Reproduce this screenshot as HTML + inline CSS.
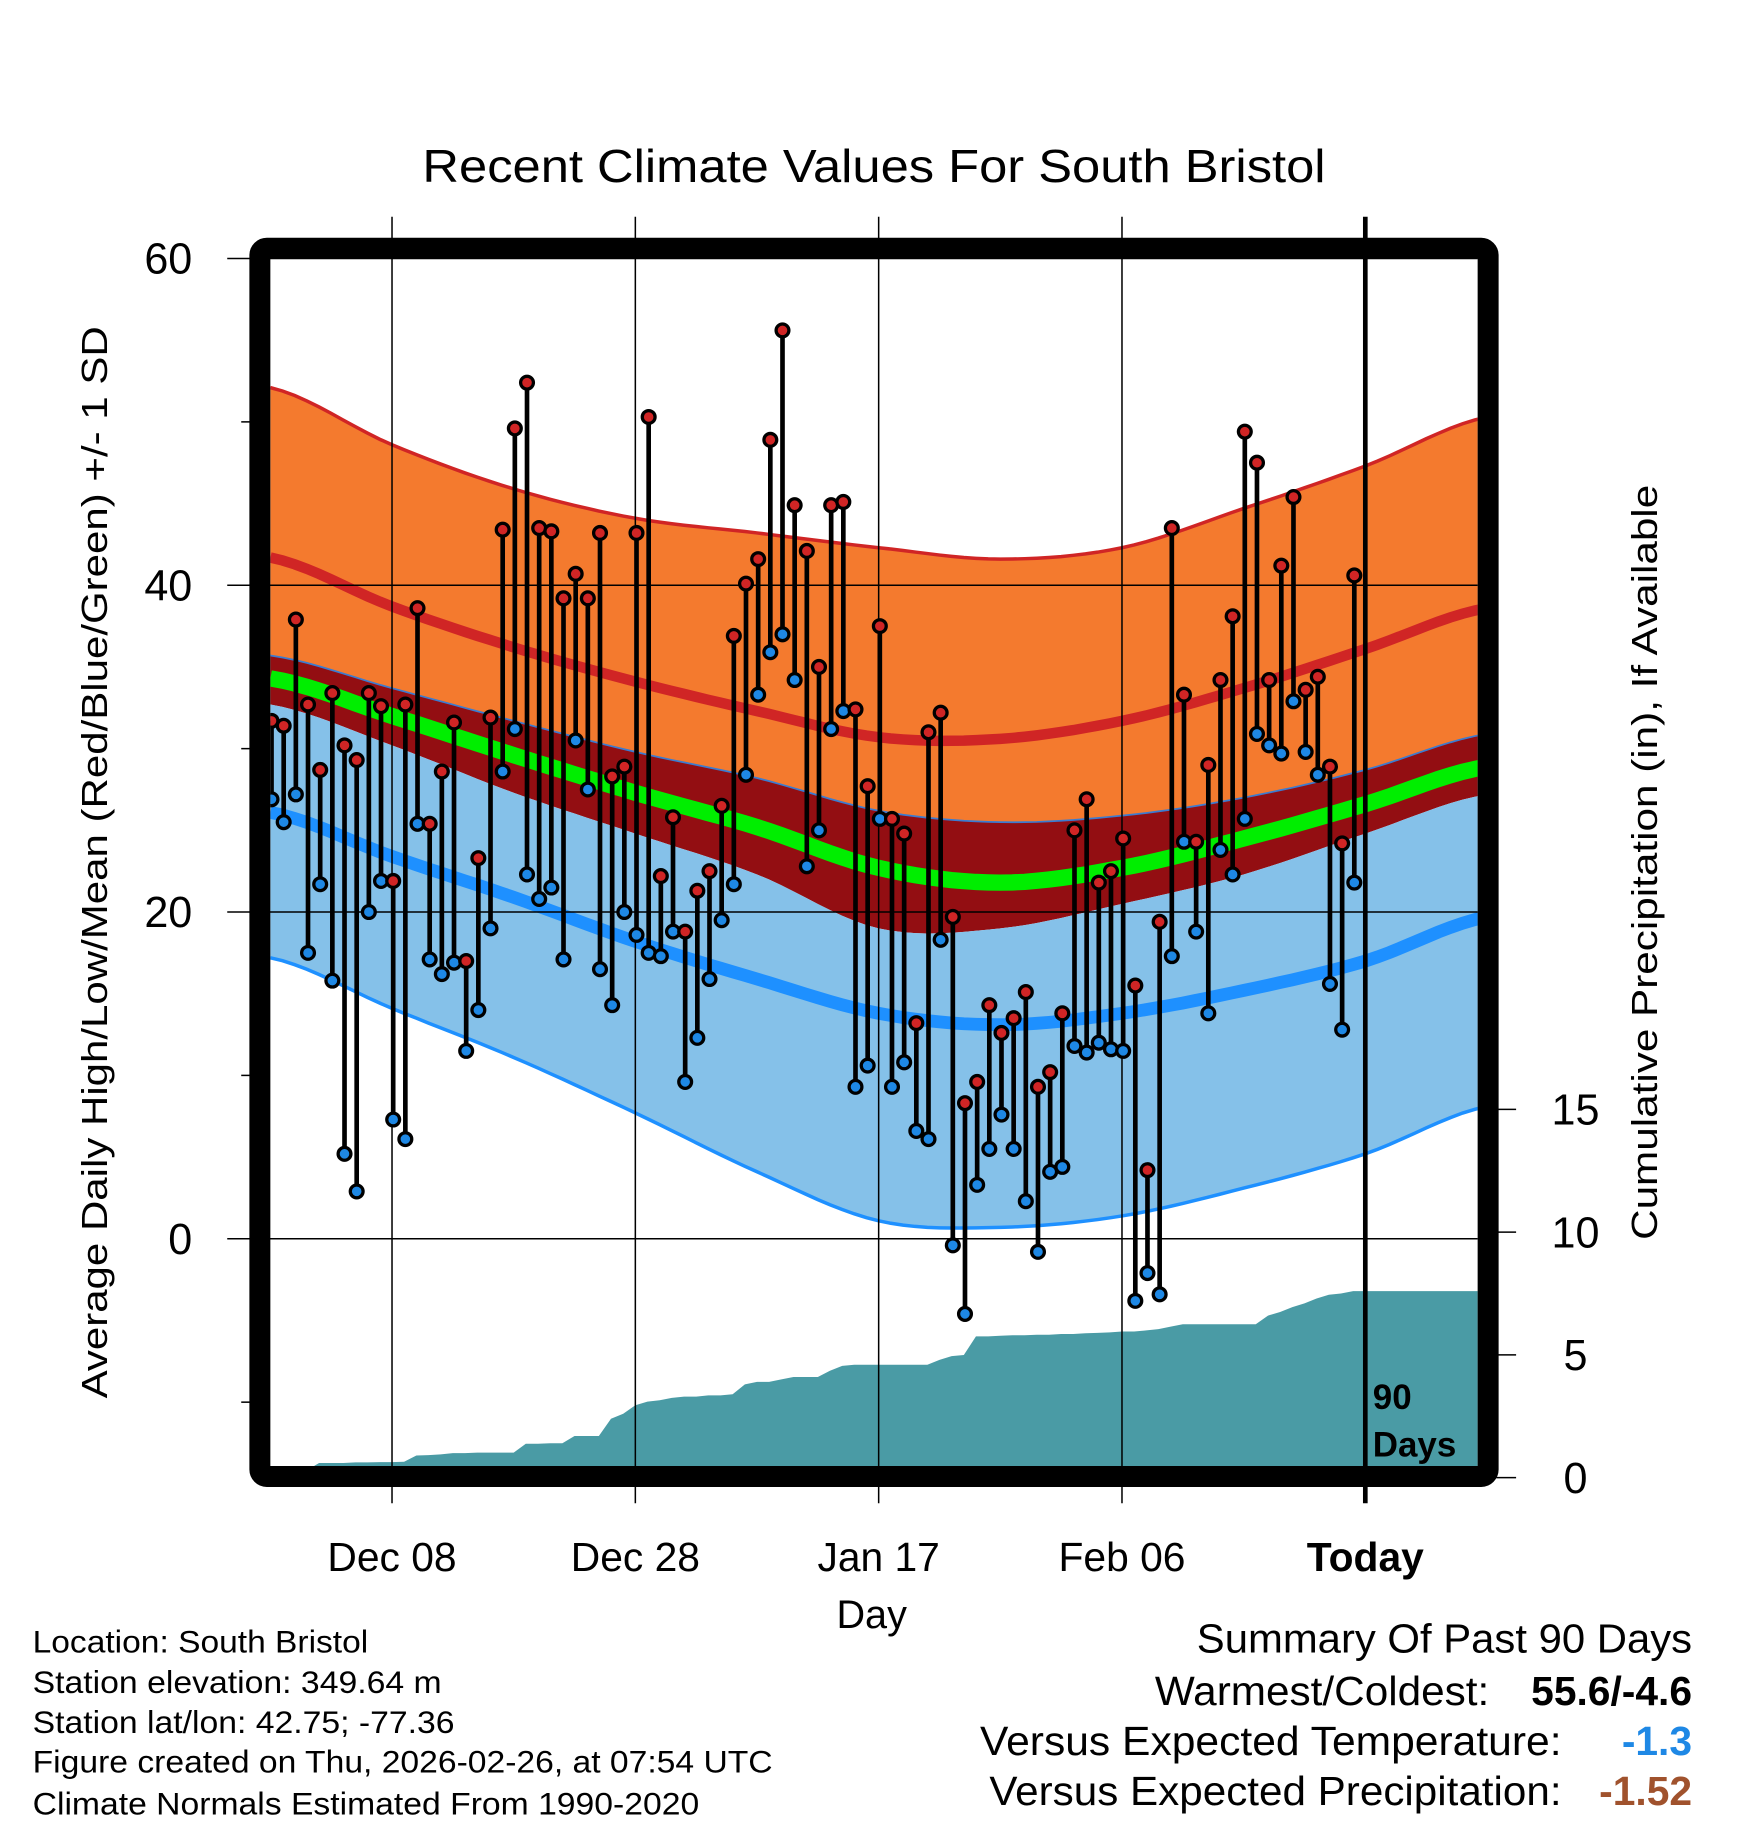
<!DOCTYPE html>
<html><head><meta charset="utf-8"><style>
html,body{margin:0;padding:0;background:#fff;}
svg{display:block;font-family:"Liberation Sans",sans-serif;}
</style></head><body>
<svg id="chart" width="1748" height="1828" viewBox="0 0 1500 1568.6" xmlns="http://www.w3.org/2000/svg">
<defs><clipPath id="plotclip"><rect x="232" y="222" width="1036" height="1036"/></clipPath></defs>
<text x="750" y="156" font-size="40" text-anchor="middle" textLength="775" lengthAdjust="spacingAndGlyphs">Recent Climate Values For South Bristol</text>
<g id="bands" clip-path="url(#plotclip)"></g>
<g id="precip" clip-path="url(#plotclip)"></g>
<g id="grid"></g>
<g id="marks" clip-path="url(#plotclip)"></g>
<rect x="223" y="213" width="1054" height="1054" rx="6" fill="none" stroke="#000" stroke-width="18"/>
<g id="axes"></g>
<text x="1178" y="1209" font-size="30" font-weight="bold">90</text>
<text x="1178" y="1250" font-size="30" font-weight="bold">Days</text>
<text x="748" y="1397" font-size="34" text-anchor="middle">Day</text>
<text transform="translate(92,740) rotate(-90)" font-size="31" text-anchor="middle" textLength="920" lengthAdjust="spacingAndGlyphs">Average Daily High/Low/Mean (Red/Blue/Green) +/- 1 SD</text>
<text transform="translate(1422,740) rotate(-90)" font-size="31" text-anchor="middle" textLength="648" lengthAdjust="spacingAndGlyphs">Cumulative Precipitation (in), If Available</text>
<g font-size="27">
<text x="28" y="1418" textLength="288" lengthAdjust="spacingAndGlyphs">Location: South Bristol</text>
<text x="28" y="1453" textLength="351" lengthAdjust="spacingAndGlyphs">Station elevation: 349.64 m</text>
<text x="28" y="1487" textLength="362" lengthAdjust="spacingAndGlyphs">Station lat/lon: 42.75; -77.36</text>
<text x="28" y="1521" textLength="635" lengthAdjust="spacingAndGlyphs">Figure created on Thu, 2026-02-26, at 07:54 UTC</text>
<text x="28" y="1557" textLength="572" lengthAdjust="spacingAndGlyphs">Climate Normals Estimated From 1990-2020</text>
</g>
<g font-size="35">
<text x="1452" y="1418" text-anchor="end" textLength="425" lengthAdjust="spacingAndGlyphs">Summary Of Past 90 Days</text>
<text x="1278" y="1463" text-anchor="end" textLength="287" lengthAdjust="spacingAndGlyphs">Warmest/Coldest:</text>
<text x="1452" y="1463" text-anchor="end" font-weight="bold">55.6/-4.6</text>
<text x="1340" y="1506" text-anchor="end" textLength="499" lengthAdjust="spacingAndGlyphs">Versus Expected Temperature:</text>
<text x="1452" y="1506" text-anchor="end" font-weight="bold" fill="#1e88e5">-1.3</text>
<text x="1340" y="1549" text-anchor="end" textLength="491" lengthAdjust="spacingAndGlyphs">Versus Expected Precipitation:</text>
<text x="1452" y="1549" text-anchor="end" font-weight="bold" fill="#a0522d">-1.52</text>
</g>
</svg>
<script>
const highs=[31.7,31.4,37.9,32.7,28.7,33.4,30.2,29.3,33.4,32.6,21.9,32.7,38.6,25.4,28.6,31.6,17,23.3,31.9,43.4,49.6,52.4,43.5,43.3,39.2,40.7,39.2,43.2,28.3,28.9,43.2,50.3,22.2,25.8,18.8,21.3,22.5,26.5,36.9,40.1,41.6,48.9,55.6,44.9,42.1,35,44.9,45.1,32.4,27.7,37.5,25.7,24.8,13.2,31,32.2,19.7,8.3,9.6,14.3,12.6,13.5,15.1,9.3,10.2,13.8,25,26.9,21.8,22.5,24.5,15.5,4.2,19.4,43.5,33.3,24.3,29,34.2,38.1,49.4,47.5,34.2,41.2,45.4,33.6,34.4,28.9,24.2,40.6];
const lows=[26.9,25.5,27.2,17.5,21.7,15.8,5.2,2.9,20,21.9,7.3,6.1,25.4,17.1,16.2,16.9,11.5,14,19,28.6,31.2,22.3,20.8,21.5,17.1,30.5,27.5,16.5,14.3,20,18.6,17.5,17.3,18.8,9.6,12.3,15.9,19.5,21.7,28.4,33.3,35.9,37,34.2,22.8,25,31.2,32.3,9.3,10.6,25.7,9.3,10.8,6.6,6.1,18.3,-0.4,-4.6,3.3,5.5,7.6,5.5,2.3,-0.8,4.1,4.4,11.8,11.4,12,11.6,11.5,-3.8,-2.1,-3.4,17.3,24.3,18.8,13.8,23.8,22.3,25.7,30.9,30.2,29.7,32.9,29.8,28.4,15.6,12.8,21.8];
const precipCum=[0.3,0.3,0.3,0.3,0.6,0.6,0.6,0.62,0.62,0.63,0.63,0.65,0.9,0.92,0.95,1.0,1.0,1.02,1.02,1.02,1.02,1.38,1.38,1.4,1.4,1.7,1.7,1.7,2.4,2.6,2.95,3.1,3.15,3.25,3.3,3.3,3.35,3.35,3.4,3.8,3.9,3.9,4.0,4.1,4.1,4.1,4.35,4.55,4.6,4.6,4.6,4.6,4.6,4.6,4.6,4.8,4.95,5.0,5.75,5.75,5.78,5.8,5.8,5.82,5.82,5.85,5.85,5.88,5.9,5.92,5.95,5.95,6.0,6.05,6.15,6.25,6.25,6.25,6.25,6.25,6.25,6.25,6.6,6.75,6.95,7.1,7.3,7.45,7.5,7.6];
const normDays=[0,10,20,30,40,50,60,70,80,90,100];
const highSdUp=[52.1,48.6,45.9,44.1,43.2,42.3,41.6,42.3,44.7,47.3,50.3];
const highMean=[41.7,38.7,36.2,34.1,32.3,30.7,30.6,31.7,33.7,36.1,38.6];
const highSdDn=[35.7,33.7,31.7,29.8,28.2,26.2,25.5,25.9,27.0,28.7,30.9];
const meanMean=[34.3,32.0,29.6,27.3,25.2,22.7,21.8,22.7,24.5,26.6,28.9];
const lowSdUp=[32.7,30.2,27.3,24.8,22.3,19.0,19.0,20.5,22.3,24.8,27.2];
const lowMean=[26.1,23.4,20.9,18.2,15.9,13.8,13.1,13.8,15.2,17.0,19.7];
const lowSdDn=[17.2,14.1,11.1,7.7,4.1,1.1,0.7,1.4,3.1,5.2,8.1];
const yTicks=[0,20,40,60];
const yMinor=[-10,10,30,50];
const precipTicks=[0,5,10,15];
const xTickDays=[10,30,50,70,90];
const xTickLabels=["Dec 08","Dec 28","Jan 17","Feb 06","Today"];

const NS="http://www.w3.org/2000/svg";
const X=d=>232+d*10.44;
const Y=t=>1063-t*14.02;
const P=p=>1268-p*21.07;
function mk(tag,attrs,parent){const e=document.createElementNS(NS,tag);for(const k in attrs)e.setAttribute(k,attrs[k]);parent.appendChild(e);return e;}
function curvePts(vals){const pts=[];for(let d=0;d<=100;d+=1){let i=Math.min(Math.floor(d/10),normDays.length-2);const t=(d-normDays[i])/10;
 const p0=vals[Math.max(i-1,0)],p1=vals[i],p2=vals[i+1],p3=vals[Math.min(i+2,vals.length-1)];
 const v=0.5*((2*p1)+(-p0+p2)*t+(2*p0-5*p1+4*p2-p3)*t*t+(-p0+3*p1-3*p2+p3)*t*t*t);pts.push([X(d),Y(v)]);}return pts;}
const ptsStr=pts=>pts.map(p=>p[0].toFixed(1)+","+p[1].toFixed(1)).join(" ");
function band(a,b,fill,name){const pa=curvePts(a),pb=curvePts(b).reverse();const e=mk("polygon",{points:ptsStr(pa.concat(pb)),fill:fill},bands);
 
 }
function line(v,stroke,w,name){const e=mk("polyline",{points:ptsStr(curvePts(v)),fill:"none",stroke:stroke,"stroke-width":w},bands);
 
 }
const bands=document.getElementById("bands");
band(highSdUp,highSdDn,"#f47a2e","high-sd-band");
band(highSdDn,lowSdUp,"#930e12","mean-band");
band(lowSdUp,lowSdDn,"#85c1e9","low-sd-band");
line(highSdUp,"#d02525",3,"high-sd-upper-line");
line(highMean,"#d02525",9,"mean-high-line");
line(highSdDn,"#3b7bd0",1.5,"high-sd-lower-line");
line(meanMean,"#00ee00",14,"mean-line");
line(lowMean,"#1e90ff",11,"mean-low-line");
line(lowSdDn,"#1e90ff",3,"low-sd-lower-line");

const pg=document.getElementById("precip");
let pp=[[X(0),1260]];precipCum.forEach((v,i)=>pp.push([X(i),P(v)]));pp.push([X(90),P(precipCum[precipCum.length-1])]);pp.push([1270,P(precipCum[precipCum.length-1])]);pp.push([1270,1260]);
const pa=mk("polygon",{points:ptsStr(pp),fill:"#4a9ba5"},pg);



const grid=document.getElementById("grid");
yTicks.forEach(t=>{const l=mk("line",{x1:195,x2:1268,y1:Y(t),y2:Y(t),stroke:"#000","stroke-width":1.3},grid);
 
 });
xTickDays.forEach((d,i)=>{const l=mk("line",{x1:X(d),x2:X(d),y1:186,y2:1290,stroke:"#000","stroke-width":i==4?4:1.3},grid);
 
 });

const marks=document.getElementById("marks");
highs.forEach((h,i)=>{const x=X(i)+1;
 const s=mk("line",{x1:x,x2:x,y1:Y(h),y2:Y(lows[i]),stroke:"#000","stroke-width":4},marks);
 
 
 const c1=mk("circle",{cx:x,cy:Y(h),r:5.5,fill:"#d02525",stroke:"#000","stroke-width":2.8},marks);
 
 
 const c2=mk("circle",{cx:x,cy:Y(lows[i]),r:5.5,fill:"#1e88e5",stroke:"#000","stroke-width":2.8},marks);
 
 });

const axes=document.getElementById("axes");
yTicks.forEach(t=>{const tx=mk("text",{x:165,y:Y(t)+13,"font-size":37,"text-anchor":"end"},axes);tx.textContent=t;
 
 });
yMinor.forEach(t=>{const l=mk("line",{x1:207,x2:216,y1:Y(t),y2:Y(t),stroke:"#000","stroke-width":1.3},axes);
 
 });
precipTicks.forEach(p=>{const l=mk("line",{x1:1284,x2:1301,y1:P(p),y2:P(p),stroke:"#000","stroke-width":1.3},axes);
 
 
 const tx=mk("text",{x:1352,y:P(p)+13,"font-size":37,"text-anchor":"middle"},axes);tx.textContent=p;
 
 });
xTickDays.forEach((d,i)=>{const tx=mk("text",{x:X(d),y:1348,"font-size":35,"text-anchor":"middle","font-weight":i==4?"bold":"normal"},axes);tx.textContent=xTickLabels[i];
 
 });
</script>
</body></html>
